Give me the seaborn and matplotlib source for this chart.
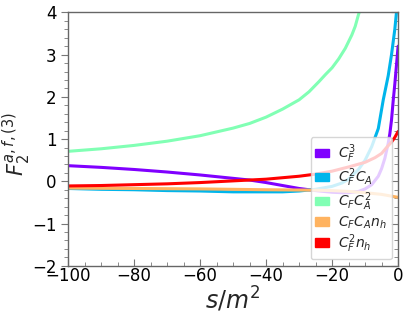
import numpy as np
import pandas as pd
import seaborn as sns
import matplotlib.pyplot as plt
from matplotlib.patches import Patch
from matplotlib.ticker import MultipleLocator

# valores (s/m^2 -> F2)
x_cf3 = [-100, -90, -80, -70, -60, -50, -45, -40, -35, -30, -25, -20, -17, -15, -12, -10, -8, -6, -5, -4, -3, -2.5, -2, -1.5, -1, -0.5, 0]
y_cf3 = [0.37, 0.33, 0.28, 0.22, 0.15, 0.07, 0.03, -0.03, -0.10, -0.17, -0.22, -0.26, -0.27, -0.27, -0.24, -0.18, -0.08, 0.12, 0.30, 0.55, 0.90, 1.13, 1.45, 1.90, 2.30, 2.75, 3.20]

x_cf2ca = [-100, -90, -80, -70, -60, -50, -40, -35, -30, -25, -20, -17, -15, -12, -10, -8, -6, -4.5, -3, -2, -1, -0.5, 0]
y_cf2ca = [-0.17, -0.19, -0.20, -0.22, -0.23, -0.25, -0.25, -0.25, -0.23, -0.19, -0.12, -0.04, 0.05, 0.28, 0.50, 0.82, 1.25, 1.93, 2.50, 3.00, 3.60, 4.00, 4.40]

x_cfca2 = [-100, -90, -80, -70, -60, -50, -45, -40, -35, -30, -27, -24, -22, -20, -18, -16, -14, -13, -12, -11, -10]
y_cfca2 = [0.71, 0.77, 0.85, 0.95, 1.08, 1.26, 1.37, 1.52, 1.71, 1.93, 2.12, 2.36, 2.53, 2.69, 2.90, 3.15, 3.47, 3.67, 3.95, 4.20, 4.50]

x_cfcanh = [-100, -80, -60, -40, -25, -20, -15, -10, -5, 0]
y_cfcanh = [-0.16, -0.17, -0.18, -0.20, -0.21, -0.22, -0.24, -0.27, -0.31, -0.38]

x_cf2nh = [-100, -90, -80, -70, -60, -50, -40, -30, -25, -20, -17, -15, -10, -7, -5, -3.5, -2, -1, 0]
y_cf2nh = [-0.11, -0.10, -0.08, -0.06, -0.03, 0.01, 0.05, 0.12, 0.17, 0.24, 0.30, 0.34, 0.45, 0.56, 0.66, 0.80, 0.93, 1.04, 1.18]

labels = [r'$C_F^3$', r'$C_F^2C_A$', r'$C_FC_A^2$', r'$C_FC_An_h$', r'$C_F^2n_h$']
xs = [x_cf3, x_cf2ca, x_cfca2, x_cfcanh, x_cf2nh]
ys = [y_cf3, y_cf2ca, y_cfca2, y_cfcanh, y_cf2nh]

df = pd.concat([pd.DataFrame({'s': x, 'F': y, 'cor': lab}) for x, y, lab in zip(xs, ys, labels)])

cores = [plt.cm.rainbow(v) for v in np.linspace(0, 1, 5)]

sns.set_style('white')
fig = plt.figure(figsize=(4.10, 3.19), dpi=100)
ax = fig.add_axes([0.166, 0.167, 0.805, 0.794])

sns.lineplot(data=df, x='s', y='F', hue='cor', palette=cores, sort=False,
             linewidth=2.2, legend=False, ax=ax)

ax.set_xlim(-100, 0)
ax.set_ylim(-2, 4)
ax.xaxis.set_major_locator(MultipleLocator(20))
ax.xaxis.set_minor_locator(MultipleLocator(5))
ax.yaxis.set_major_locator(MultipleLocator(1))
ax.yaxis.set_minor_locator(MultipleLocator(0.2))

for s in ax.spines.values():
    s.set_color('#666666')
    s.set_linewidth(1.0)

ax.tick_params(which='both', colors='#777777', labelcolor='black', labelsize=12)
ax.tick_params(axis='x', which='both', direction='in', bottom=True)
ax.tick_params(axis='y', which='both', direction='out', left=True)
ax.tick_params(which='major', length=5)
ax.tick_params(which='minor', length=3)
ax.tick_params(axis='x', pad=1)

# ticks do lado direito para dentro
sec = ax.secondary_yaxis('right')
sec.yaxis.set_major_locator(MultipleLocator(1))
sec.yaxis.set_minor_locator(MultipleLocator(0.2))
sec.tick_params(which='both', direction='in', colors='#777777', labelright=False)
sec.tick_params(which='major', length=5)
sec.tick_params(which='minor', length=3)
sec.spines['right'].set_visible(False)

ax.set_xlabel(r'$s/m^2$', fontsize=17, labelpad=0)
ax.set_ylabel(r'$F_2^{a,f,(3)}$', fontsize=15)
ax.yaxis.set_label_coords(-0.105, 0.48)

handles = [Patch(color=c, label=l) for c, l in zip(cores, labels)]
ax.legend(handles=handles, loc='lower right', fontsize=10, frameon=True,
          framealpha=0.8, borderpad=0.35, labelspacing=0.1,
          handlelength=0.95, handleheight=0.6, handletextpad=0.7,
          borderaxespad=0.45)

fig.savefig('out.png', dpi=100)
